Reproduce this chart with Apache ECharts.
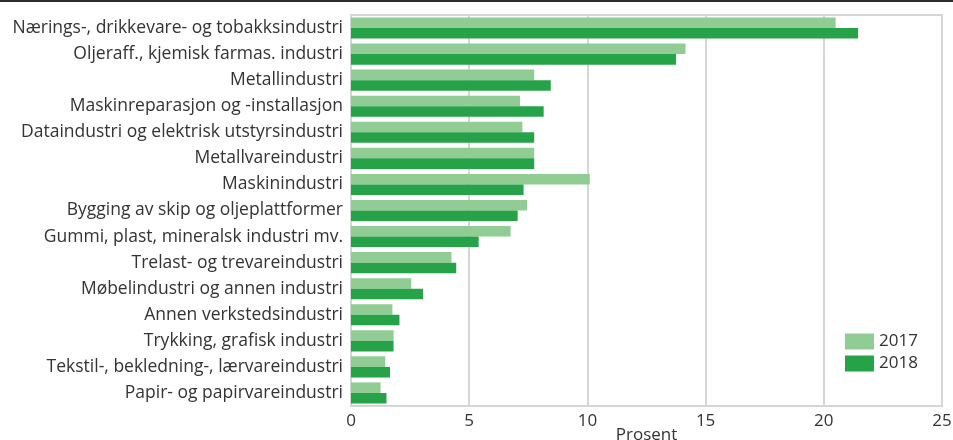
<!DOCTYPE html>
<html>
<head>
<meta charset="utf-8">
<script src="https://cdn.jsdelivr.net/npm/echarts@6/dist/echarts.min.js"></script>
<style>
  html, body { margin: 0; padding: 0; background: #fff; }
  #topline { position: absolute; left: 0; top: 0; width: 953px; height: 2px; background: #2b2b2b; }
  #chart { width: 953px; height: 440px; }
</style>
</head>
<body>
<div id="topline"></div>
<div id="chart"></div>
<script>
// Industry categories, top to bottom
const categories = [
  'Nærings-, drikkevare- og tobakksindustri',
  'Oljeraff., kjemisk farmas. industri',
  'Metallindustri',
  'Maskinreparasjon og -installasjon',
  'Dataindustri og elektrisk utstyrsindustri',
  'Metallvareindustri',
  'Maskinindustri',
  'Bygging av skip og oljeplattformer',
  'Gummi, plast, mineralsk industri mv.',
  'Trelast- og trevareindustri',
  'Møbelindustri og annen industri',
  'Annen verkstedsindustri',
  'Trykking, grafisk industri',
  'Tekstil-, bekledning-, lærvareindustri',
  'Papir- og papirvareindustri'
];

// Percent shares per year
const values2017 = [20.5, 14.15, 7.75, 7.15, 7.25, 7.75, 10.1, 7.45, 6.75, 4.25, 2.55, 1.75, 1.8, 1.45, 1.25];
const values2018 = [21.45, 13.75, 8.45, 8.15, 7.75, 7.75, 7.3, 7.05, 5.4, 4.45, 3.05, 2.05, 1.8, 1.65, 1.5];

const seriesNames = ['2017', '2018'];
const xTicks = { min: 0, max: 25, interval: 5 };
const axisName = 'Prosent';

const font = '"Open Sans", "Noto Sans", sans-serif';
const textColor = '#333333';

const chart = echarts.init(document.getElementById('chart'), null, { renderer: 'canvas' });
chart.setOption({
  animation: false,
  textStyle: { fontFamily: font },
  grid: {
    left: 351, right: 11, top: 15, bottom: 34,
    outerBoundsMode: 'none',
    containLabel: false,
    show: true, borderColor: '#d6d6d6', borderWidth: 2, backgroundColor: 'transparent'
  },
  legend: {
    orient: 'vertical',
    left: 845, top: 333,
    padding: 0,
    itemWidth: 29, itemHeight: 16, itemGap: 5,
    icon: 'rect',
    textStyle: { fontSize: 17, color: textColor, fontFamily: font },
    data: seriesNames
  },
  xAxis: {
    type: 'value',
    min: xTicks.min, max: xTicks.max, interval: xTicks.interval,
    name: axisName, nameLocation: 'middle', nameGap: 21,
    nameMoveOverlap: false,
    nameTextStyle: { fontSize: 17, color: textColor, fontFamily: font },
    axisLine: { show: false },
    axisTick: { show: false },
    axisLabel: { fontSize: 17, color: textColor, fontFamily: font, margin: 7 },
    splitLine: { show: true, lineStyle: { color: '#d6d6d6', width: 2 } }
  },
  yAxis: {
    type: 'category',
    inverse: true,
    data: categories,
    axisLine: { show: false },
    axisTick: { show: false },
    axisLabel: { fontSize: 17.5, color: textColor, fontFamily: font, margin: 8 }
  },
  series: [
    {
      name: seriesNames[0], type: 'bar', data: values2017,
      itemStyle: { color: '#90cc93' },
      barGap: '0%', barCategoryGap: '19%'
    },
    {
      name: seriesNames[1], type: 'bar', data: values2018,
      itemStyle: { color: '#26a249' },
      barGap: '0%', barCategoryGap: '19%'
    }
  ]
});
</script>
</body>
</html>
